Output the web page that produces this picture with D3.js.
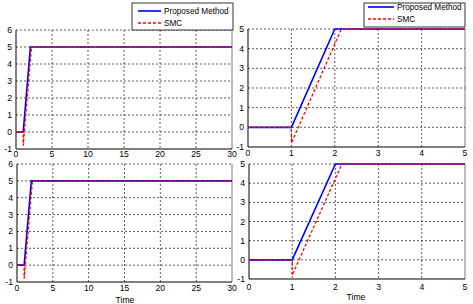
<!DOCTYPE html>
<html><head><meta charset="utf-8">
<script src="https://cdn.jsdelivr.net/npm/d3@7"></script>
<style>body{margin:0;background:#fff}svg{display:block}text{font-family:"Liberation Sans",Arial,sans-serif;font-size:8.6px;fill:#000}text.leg{font-size:8.2px}</style>
</head><body><svg id="c" width="473" height="304"></svg>
<script>
// data
const seriesNames = ["Proposed Method", "SMC"];
const proposedT = [0, 1, 2, 30];
const proposedY = [0, 0, 5, 5];
const smcT = [0, 1, 1, 2.15, 30];
const smcY = [0, 0, -0.8, 5, 5];
const leftXTicks = [0, 5, 10, 15, 20, 25, 30];
const leftYTicks = [-1, 0, 1, 2, 3, 4, 5, 6];
const rightXTicks = [0, 1, 2, 3, 4, 5];
const rightYTicks = [-1, 0, 1, 2, 3, 4, 5];

const svg = d3.select("#c");
const panels = [
  {x0:16,x1:232,y0:149,y1:30,xd:[0,30],yd:[-1,6],xt:leftXTicks,yt:leftYTicks,lab:157,time:false,leg:{x:132,y:3,w:101,h:27,l1:11,l2:23,lx0:138,lx1:161,tx:164}},
  {x0:248,x1:465,y0:147,y1:29,xd:[0,5],yd:[-1,5],xt:rightXTicks,yt:rightYTicks,lab:156,time:false,leg:{x:364,y:3,w:101,h:24,l1:7,l2:19,lx0:368,lx1:394,tx:397}},
  {x0:17,x1:232,y0:282,y1:164,xd:[0,30],yd:[-1,6],xt:leftXTicks,yt:leftYTicks,lab:291,time:{x:125,y:303}},
  {x0:249,x1:465,y0:279,y1:164,xd:[0,5],yd:[-1,5],xt:rightXTicks,yt:rightYTicks,lab:290,time:{x:356,y:300}}
];
const series = [
  {t:proposedT,v:proposedY,color:"#0000ff",dash:null,w:1.6},
  {t:smcT,v:smcY,color:"#ff0000",dash:"3,2",w:1.3}
];
panels.forEach((p,i)=>{
  const x = d3.scaleLinear().domain(p.xd).range([p.x0,p.x1]);
  const y = d3.scaleLinear().domain(p.yd).range([p.y0,p.y1]);
  const g = svg.append("g");
  const cid = "clip"+i;
  svg.append("clipPath").attr("id",cid).append("rect").attr("x",p.x0).attr("y",p.y1-2).attr("width",p.x1-p.x0).attr("height",p.y0-p.y1+2);
  // grid
  p.yt.forEach(v=>{ if(v===p.yd[0]) return;
    g.append("line").attr("x1",p.x0).attr("x2",p.x1).attr("y1",y(v)).attr("y2",y(v)).attr("stroke","#333").attr("stroke-width",0.8).attr("stroke-dasharray","2,2");});
  p.xt.forEach(v=>{ if(v===p.xd[0]||v===p.xd[1]) return;
    g.append("line").attr("x1",x(v)).attr("x2",x(v)).attr("y1",p.y1).attr("y2",p.y0).attr("stroke","#333").attr("stroke-width",0.8).attr("stroke-dasharray","2,2");});
  // axes
  g.append("line").attr("x1",p.x0).attr("x2",p.x0).attr("y1",p.y1).attr("y2",p.y0).attr("stroke","#000");
  g.append("line").attr("x1",p.x1).attr("x2",p.x1).attr("y1",p.y1).attr("y2",p.y0).attr("stroke","#555").attr("stroke-width",0.8);
  g.append("line").attr("x1",p.x0).attr("x2",p.x1).attr("y1",p.y0).attr("y2",p.y0).attr("stroke","#000");
  p.yt.forEach(v=>g.append("text").attr("x",p.x0-4).attr("y",y(v)+3).attr("text-anchor","end").text(v));
  p.xt.forEach(v=>g.append("text").attr("x",x(v)).attr("y",p.lab).attr("text-anchor","middle").text(v));
  if(p.time) g.append("text").attr("x",p.time.x).attr("y",p.time.y).attr("text-anchor","middle").text("Time");
  // series
  series.forEach(s=>{
    const pts = s.t.map((t,k)=>[t,s.v[k]]);
    const line = d3.line().x(d=>x(d[0])).y(d=>y(d[1]));
    const path = g.append("path").attr("d",line(pts)).attr("fill","none").attr("stroke",s.color).attr("stroke-width",s.w).attr("clip-path","url(#"+cid+")");
    if(s.dash) path.attr("stroke-dasharray",s.dash);
  });
  // legend
  if(p.leg){
    const L=p.leg;
    g.append("rect").attr("x",L.x).attr("y",L.y).attr("width",L.w).attr("height",L.h).attr("fill","#fff").attr("stroke","#000").attr("stroke-width",0.8);
    [L.l1,L.l2].forEach((ly,k)=>{
      const s=series[k];
      const ln=g.append("line").attr("x1",L.lx0).attr("x2",L.lx1).attr("y1",ly).attr("y2",ly).attr("stroke",s.color).attr("stroke-width",s.w);
      if(s.dash) ln.attr("stroke-dasharray",s.dash);
      g.append("text").attr("class","leg").attr("x",L.tx).attr("y",ly+3).text(seriesNames[k]);
    });
  }
});
</script></body></html>
